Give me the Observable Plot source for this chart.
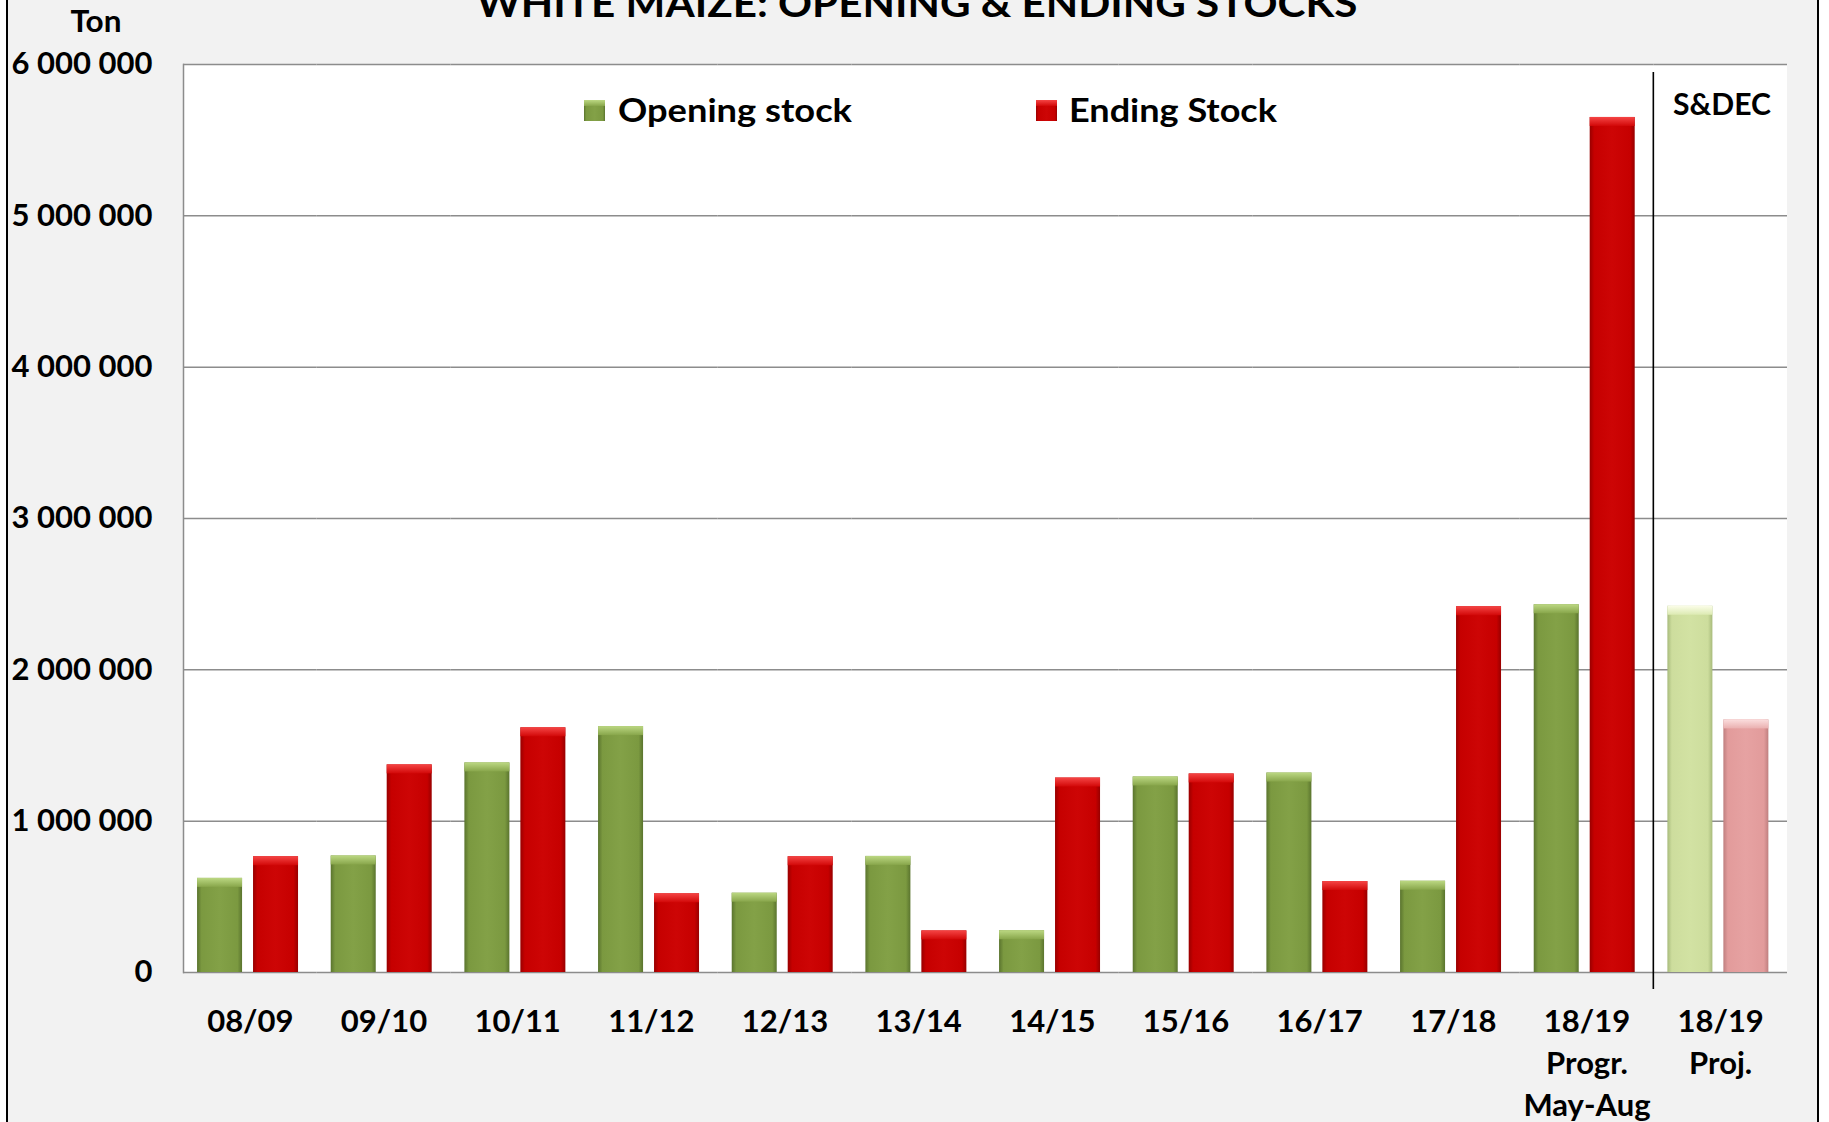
<!DOCTYPE html>
<html>
<head>
<meta charset="utf-8">
<script src="https://cdn.jsdelivr.net/npm/d3@7"></script>
<script src="https://cdn.jsdelivr.net/npm/@observablehq/plot@0.6"></script>
<style>
  html, body { margin: 0; padding: 0; background: #ffffff; }
  #wrap { position: relative; width: 1829px; height: 1122px; overflow: hidden; background: #ffffff; }
  #panel { position: absolute; left: 6px; top: 0; width: 1813px; height: 1122px; background: #f2f2f2;
           border-left: 2px solid #000; border-right: 2px solid #000; box-sizing: border-box; }
  #plotbg { position: absolute; background: #ffffff; }
  #chart { position: absolute; left: 0; top: 0; }
  #overlay { position: absolute; left: 0; top: 0; pointer-events: none; }
  text { font-family: Lato, "Open Sans", sans-serif; }
</style>
</head>
<body>
<svg width="0" height="0" style="position:absolute">
  <defs>
    <linearGradient id="bar-open" x1="0" y1="0" x2="1" y2="0">
      <stop offset="0" stop-color="#5a742e"/>
      <stop offset="0.1" stop-color="#7b9940"/>
      <stop offset="0.5" stop-color="#83a147"/>
      <stop offset="0.9" stop-color="#7b9940"/>
      <stop offset="1" stop-color="#5a742e"/>
    </linearGradient>
    <linearGradient id="bar-end" x1="0" y1="0" x2="1" y2="0">
      <stop offset="0" stop-color="#980000"/>
      <stop offset="0.1" stop-color="#c60000"/>
      <stop offset="0.5" stop-color="#cd0505"/>
      <stop offset="0.9" stop-color="#c60000"/>
      <stop offset="1" stop-color="#980000"/>
    </linearGradient>
    <linearGradient id="bar-openp" x1="0" y1="0" x2="1" y2="0">
      <stop offset="0" stop-color="#a8bb7c"/>
      <stop offset="0.1" stop-color="#cddd9d"/>
      <stop offset="0.5" stop-color="#d2e2a3"/>
      <stop offset="0.9" stop-color="#cddd9d"/>
      <stop offset="1" stop-color="#a8bb7c"/>
    </linearGradient>
    <linearGradient id="bar-endp" x1="0" y1="0" x2="1" y2="0">
      <stop offset="0" stop-color="#bf7f7f"/>
      <stop offset="0.1" stop-color="#e29b9b"/>
      <stop offset="0.5" stop-color="#e6a2a2"/>
      <stop offset="0.9" stop-color="#e29b9b"/>
      <stop offset="1" stop-color="#bf7f7f"/>
    </linearGradient>
    <linearGradient id="bev-open" x1="0" y1="0" x2="0" y2="1">
      <stop offset="0" stop-color="#bcd883"/>
      <stop offset="1" stop-color="#88a64b"/>
    </linearGradient>
    <linearGradient id="bev-end" x1="0" y1="0" x2="0" y2="1">
      <stop offset="0" stop-color="#f54545"/>
      <stop offset="1" stop-color="#d20808"/>
    </linearGradient>
    <linearGradient id="bev-openp" x1="0" y1="0" x2="0" y2="1">
      <stop offset="0" stop-color="#fbfde8"/>
      <stop offset="1" stop-color="#dceab2"/>
    </linearGradient>
    <linearGradient id="bev-endp" x1="0" y1="0" x2="0" y2="1">
      <stop offset="0" stop-color="#fbdede"/>
      <stop offset="1" stop-color="#eab0b0"/>
    </linearGradient>
  </defs>
</svg>
<div id="wrap">
  <div id="panel"></div>
  <div id="plotbg"></div>
</div>
<script>
// ---------- data ----------
const categories = ["08/09", "09/10", "10/11", "11/12", "12/13", "13/14", "14/15",
                    "15/16", "16/17", "17/18", "18/19\nProgr.\nMay-Aug", "18/19\nProj."];
const projectedCategories = ["18/19\nProj."];
const seriesNames = ["Opening stock", "Ending Stock"];
const openingStock = [622000, 770000, 1385000, 1625000, 524000, 767000, 276000,
                      1292000, 1318000, 603000, 2430000, 2420000];
const endingStock  = [765000, 1372000, 1617000, 520000, 765000, 275000, 1285000,
                      1312000, 601000, 2417000, 5650000, 1669000];
const yTicks = [0, 1000000, 2000000, 3000000, 4000000, 5000000, 6000000];
const titleText = "WHITE MAIZE: OPENING & ENDING STOCKS";
const unitText = "Ton";
const sectionText = "S&DEC";

// ---------- layout ----------
const W = 1829, H = 1122;
const M = {top: 64, right: 42, bottom: 150, left: 183};

const rows = categories.flatMap((c, i) => {
  const proj = projectedCategories.includes(c);
  return [
    {cat: c, series: seriesNames[0], value: openingStock[i], kind: proj ? "openp" : "open"},
    {cat: c, series: seriesNames[1], value: endingStock[i], kind: proj ? "endp" : "end"}
  ];
});

const fmt = d => d3.format(",")(d).replace(/,/g, " ");

const plot = Plot.plot({
  width: W,
  height: H,
  marginTop: M.top,
  marginRight: M.right,
  marginBottom: M.bottom,
  marginLeft: M.left,
  style: {background: "transparent", fontFamily: "Lato, 'Open Sans', sans-serif",
          fontSize: "31px", fontWeight: "bold", color: "#000", overflow: "visible"},
  fx: {domain: categories, padding: 0, axis: null, round: false},
  x: {domain: seriesNames, paddingInner: 0.196, paddingOuter: 0.292, align: 0.43, axis: null, round: false},
  y: {domain: [0, 6000000], axis: null},
  color: {type: "identity"},
  marks: [
    Plot.gridY(yTicks, {stroke: "#8c8c8c", strokeOpacity: 1, strokeWidth: 1.5}),
    Plot.frame({anchor: "left", facetAnchor: "left", stroke: "#8c8c8c", strokeWidth: 1.5}),
    Plot.barY(rows, {fx: "cat", x: "series", y: "value", fill: d => `url(#bar-${d.kind})`}),
    Plot.barY(rows, {fx: "cat", x: "series", y1: "value", y2: "value", insetBottom: -9,
                     fill: d => `url(#bev-${d.kind})`}),
    Plot.axisY(yTicks, {tickFormat: fmt, tickSize: 0, tickPadding: 31, label: null,
                        fontSize: 31, fontWeight: "bold"}),
    Plot.text(categories, {fx: d => d, text: d => d, frameAnchor: "bottom", lineAnchor: "top",
                           dy: 30, lineHeight: 1.355, fontSize: 31, fontWeight: "bold", fill: "#000"})
  ]
});
plot.id = "chart";

const wrap = document.getElementById("wrap");
const bg = document.getElementById("plotbg");
bg.style.left = M.left + "px";
bg.style.top = M.top + "px";
bg.style.width = (W - M.left - M.right) + "px";
bg.style.height = (H - M.top - M.bottom) + "px";
wrap.appendChild(plot);

// ---------- overlay: title, unit, legend, section separator ----------
const fxScale = plot.scale("fx");
const yScale = plot.scale("y");
const sepX = fxScale.apply(projectedCategories[0]);
const yTop = yScale.apply(6000000), yZero = yScale.apply(0);

const ov = d3.select(wrap).append("svg")
  .attr("id", "overlay").attr("width", W).attr("height", H);

ov.append("line")
  .attr("x1", sepX).attr("x2", sepX)
  .attr("y1", yTop + 8).attr("y2", yZero + 17)
  .attr("stroke", "#000").attr("stroke-width", 1.6);

function label(txt, x, y, size, len, anchor = "middle") {
  ov.append("text").text(txt)
    .attr("x", x).attr("y", y)
    .attr("text-anchor", anchor)
    .attr("font-size", size).attr("font-weight", "bold")
    .attr("fill", "#000")
    .attr("textLength", len).attr("lengthAdjust", "spacingAndGlyphs");
}

label(titleText, 917, 17, 38, 881);
label(unitText, 96, 32, 30, 51);
label(sectionText, 1722, 115, 30, 98);

const legendItems = [
  {name: seriesNames[0], kind: "open", sx: 584, tx: 618, len: 234},
  {name: seriesNames[1], kind: "end", sx: 1036, tx: 1069, len: 208}
];
legendItems.forEach(it => {
  ov.append("rect").attr("x", it.sx).attr("y", 100).attr("width", 21).attr("height", 21)
    .attr("fill", `url(#bar-${it.kind})`);
  ov.append("rect").attr("x", it.sx).attr("y", 100).attr("width", 21).attr("height", 6)
    .attr("fill", `url(#bev-${it.kind})`);
  label(it.name, it.tx, 122, 33, it.len, "start");
});
</script>
</body>
</html>
